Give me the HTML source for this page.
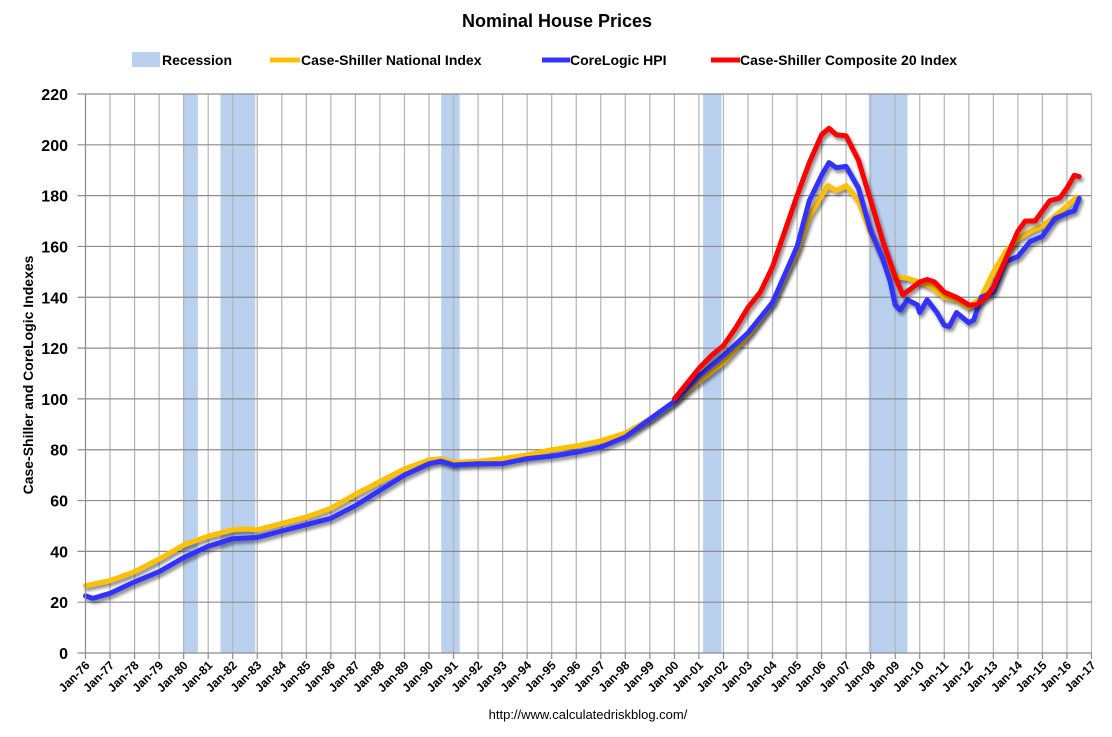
<!DOCTYPE html>
<html><head><meta charset="utf-8"><style>
html,body{margin:0;padding:0;background:#fff;}
svg{display:block;font-family:"Liberation Sans",sans-serif;}
</style></head><body>
<svg id="chart" width="1112" height="737" viewBox="0 0 1112 737">
<defs><filter id="sh" x="-5%" y="-5%" width="110%" height="110%"><feGaussianBlur in="SourceAlpha" stdDeviation="1.5"/><feOffset dx="2" dy="3"/><feComponentTransfer><feFuncA type="linear" slope="0.45"/></feComponentTransfer><feMerge><feMergeNode/><feMergeNode in="SourceGraphic"/></feMerge></filter></defs>
<text x="557" y="27" text-anchor="middle" font-size="18" font-weight="bold">Nominal House Prices</text>
<g font-size="14" font-weight="bold">
<g><rect x="132" y="52" width="28" height="15" fill="#b9d0ee"/><text x="162" y="65">Recession</text></g>
<g><line x1="270" y1="60" x2="300" y2="60" stroke="#ffc000" stroke-width="5"/><text x="301" y="65">Case-Shiller National Index</text></g>
<g><line x1="542" y1="60" x2="570" y2="60" stroke="#3333ff" stroke-width="5"/><text x="570" y="65">CoreLogic HPI</text></g>
<g><line x1="711" y1="60" x2="740" y2="60" stroke="#ff0000" stroke-width="5"/><text x="740" y="65">Case-Shiller Composite 20 Index</text></g>
</g>
<g id="recessions"></g>
<g id="grid"></g>
<g id="series"></g>
<g id="axes"></g>
<text transform="translate(33,375) rotate(-90)" text-anchor="middle" font-size="14" font-weight="bold">Case-Shiller and CoreLogic Indexes</text>
<text x="588" y="719" text-anchor="middle" font-size="13">http://www.calculatedriskblog.com/</text>
</svg>
<script>
const yTicks=[0,20,40,60,80,100,120,140,160,180,200,220];
const xYears=[];for(let y=1976;y<=2017;y++)xYears.push(y);
const recessions=[[1980.0,1980.58],[1981.5,1982.92],[1990.5,1991.25],[2001.17,2001.92],[2007.92,2009.5]];
const natX=[1976,1977,1978,1979,1980,1981,1982,1982.5,1983,1984,1985,1986,1987,1988,1989,1990,1990.5,1991,1992,1993,1994,1995,1996,1997,1998,1999,2000,2001,2002,2003,2004,2005,2005.5,2006,2006.25,2006.6,2007,2007.5,2008,2008.5,2009,2009.5,2010,2010.5,2011,2011.5,2012,2012.5,2013,2013.5,2014,2014.5,2015,2015.5,2016,2016.4];
const natY=[26.5,28.5,32,37,42.5,46,48.5,48.8,48.5,51,53.5,57,62.5,67.5,72.5,76,76.5,75,75.5,76.5,78,80,81.5,83.5,86.5,92,99,107,114.5,125,138,158,172,180,184,182,184,178,165,155,148,147.5,146,144,140,139,136,140,150,158,163,166,168,172,176,179.5];
const clX=[1976,1976.3,1977,1978,1979,1980,1981,1982,1983,1984,1985,1986,1987,1988,1989,1990,1990.5,1991,1992,1993,1994,1995,1996,1997,1998,1999,2000,2001,2002,2003,2004,2005,2005.5,2006,2006.3,2006.6,2007,2007.5,2008,2008.5,2008.8,2009,2009.2,2009.5,2009.9,2010,2010.3,2010.7,2011,2011.2,2011.5,2012,2012.2,2012.5,2013,2013.5,2014,2014.5,2015,2015.5,2016,2016.3,2016.5];
const clY=[22.5,21.5,23.5,28,32,37.5,42,45,45.5,48,50.5,53,58,64,70,74.5,75.5,74,74.5,74.5,76.5,77.5,79,81,85,92,99,109,117,126,138,160,178,188,193,191,191.5,183,166,155,146,137,135,139,137,134,139,134,129,128.5,134,130,131,140,142,154,156,162,164,171,173,174,179];
const c20X=[2000,2000.5,2001,2001.5,2002,2002.5,2003,2003.5,2004,2004.5,2005,2005.5,2006,2006.3,2006.6,2007,2007.5,2008,2008.5,2009,2009.3,2009.6,2010,2010.3,2010.6,2011,2011.5,2012,2012.3,2012.7,2013,2013.5,2014,2014.3,2014.7,2015,2015.3,2015.7,2016,2016.3,2016.5];
const c20Y=[100,106,112,117,121,128,136,142,152,166,180,193,204,206.5,204,203.5,194,178,162,148,141,143,146,147,146,142,140,137,137,140,144,155,166,170,170,174,178,179,183,188,187.5];

const NS='http://www.w3.org/2000/svg';
const X0=85.5,X1=1091.5,Y0=653,Y1=94;
function xs(v){return X0+(v-1976)/(2017-1976)*(X1-X0);}
function ys(v){return Y0-v/220*(Y0-Y1);}
function mk(tag,attrs,parent){const e=document.createElementNS(NS,tag);for(const k in attrs)e.setAttribute(k,attrs[k]);parent.appendChild(e);return e;}
const gR=document.getElementById('recessions'),gG=document.getElementById('grid'),gS=document.getElementById('series'),gA=document.getElementById('axes');
recessions.forEach(r=>{const e=mk('rect',{x:xs(r[0]),y:Y1,width:xs(r[1])-xs(r[0]),height:Y0-Y1,fill:'#b9d0ee'},gR);

});
xYears.forEach(y=>{if(y===1976)return;const e=mk('line',{x1:xs(y),x2:xs(y),y1:Y1,y2:Y0,stroke:'#b4b4b4','stroke-width':1.2},gG);

});
yTicks.forEach(v=>{if(v===0)return;const e=mk('line',{x1:X0-8,x2:X1,y1:ys(v),y2:ys(v),stroke:'#8c8c8c','stroke-width':1.2},gG);

});
function series(xa,ya,color,name){const d=xa.map((x,i)=>(i?'L':'M')+xs(x).toFixed(1)+','+ys(ya[i]).toFixed(1)).join('');
const e=mk('path',{d:d,fill:'none',stroke:color,'stroke-width':5,'stroke-linejoin':'round','stroke-linecap':'round',filter:'url(#sh)'},gS);

}
series(natX,natY,'#ffc000','series-national-index');
series(clX,clY,'#3333ff','series-corelogic-hpi');
series(c20X,c20Y,'#ff0000','series-composite-20');
let e=mk('line',{x1:X0,x2:X0,y1:Y1,y2:Y0,stroke:'#8c8c8c','stroke-width':1.2},gA);


e=mk('line',{x1:X0-8,x2:X1,y1:Y0,y2:Y0,stroke:'#8c8c8c','stroke-width':1.2},gA);


yTicks.forEach(v=>{const t=mk('text',{x:68,y:ys(v)+6,'text-anchor':'end','font-size':16,'font-weight':'bold'},gA);t.textContent=v;

});
xYears.forEach(y=>{const x=xs(y);const tk=mk('line',{x1:x,x2:x,y1:Y0,y2:Y0+6,stroke:'#8c8c8c','stroke-width':1.2},gA);


const t=mk('text',{transform:'translate('+(x+5)+','+(Y0+13)+') rotate(-45)','text-anchor':'end','font-size':12,'font-weight':'bold'},gA);
t.textContent='Jan-'+String(y).slice(2);

});
</script>
</body></html>
